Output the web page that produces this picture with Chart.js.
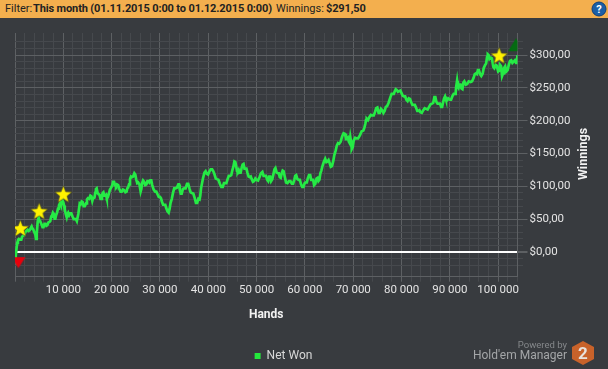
<!DOCTYPE html>
<html><head><meta charset="utf-8">
<script src="https://cdn.jsdelivr.net/npm/chart.js@4"></script>
<style>
html,body{margin:0;padding:0;width:608px;height:369px;overflow:hidden;background:#383b3f;font-family:Roboto,sans-serif}
#c{position:absolute;left:0;top:0}
#head{position:absolute;left:0;top:0;width:608px;height:18px;background:#f3af4e;color:#222;font-size:11px;line-height:17px;white-space:pre}
#head span{position:absolute;top:0}
b{font-weight:700;font-size:11px;letter-spacing:-.13px}
#pw{position:absolute;right:41px;top:338px;font-size:9.5px;color:#85888b;line-height:13px}
#hm{position:absolute;right:41px;top:346px;font-size:12px;color:#a4a6a8;line-height:18px}
#wn{position:absolute;left:553px;top:145.5px;width:60px;text-align:center;line-height:16px;font-size:12.5px;font-weight:700;color:#f2f2f2;transform:rotate(-90deg)}
svg{position:absolute}
</style></head><body>
<canvas id="c" width="608" height="369"></canvas>
<div id="head"><span style="left:5px">Filter:</span><span style="left:33px"><b>This month (01.11.2015 0:00 to 01.12.2015 0:00)</b></span><span style="left:276px">Winnings:</span><span style="left:326px"><b>$291,50</b></span></div>
<svg style="left:591px;top:1px" width="16" height="16" viewBox="0 0 16 16"><circle cx="8" cy="8" r="7" fill="#1c5fa5" stroke="#0f3f78"/><text x="8" y="12" text-anchor="middle" font-size="11" font-weight="700" fill="#fff" font-family="Roboto">?</text></svg>
<div id="pw">Powered by</div><div id="hm">Hold'em Manager</div>
<div id="wn">Winnings</div>
<svg style="left:571px;top:340px" width="24" height="26" viewBox="0 0 24 26"><polygon points="12,1 23,7 23,19 12,25 1,19 1,7" fill="#c8622a"/><text x="12" y="19" text-anchor="middle" font-size="17" font-weight="700" fill="#e8e2dc" font-family="Roboto">2</text></svg>
<script>
const hands=[0,150,300,450,600,800,1100,1450,1900,2200,2450,2800,3300,3600,4000,4200,4350,4500,4700,4900,5200,5500,5900,6300,6700,7150,7500,7850,8200,8500,8900,9350,9700,10000,10300,10700,11000,11400,11900,12400,12800,13100,13400,13800,14200,14700,15100,15600,16000,16300,16600,16900,17300,17700,18000,18300,18700,19000,19400,19900,20300,20700,21100,21600,22100,22600,23100,23400,23800,24200,24700,25100,25500,26000,26300,26700,27200,27600,28000,28400,29000,29500,30000,30400,30900,31300,31800,32200,32700,33200,33800,34100,34500,35000,35600,36100,36600,37200,37700,38200,38500,38900,39200,39700,40200,40800,41300,41800,42400,43000,43500,44000,44500,45000,45400,45800,46100,46500,46900,47300,47700,48100,48600,49000,49500,50000,50600,51200,51700,52200,52600,53000,53500,53900,54400,54800,55200,55600,56100,56700,57300,57800,58200,58700,59200,59700,60200,60600,61100,61500,61900,62400,62800,63200,63600,64200,64700,65100,65600,66100,66600,67100,67700,68300,68700,69100,69400,69700,70100,70700,71400,72100,72500,72800,73300,74000,74500,75000,75500,76000,76500,77000,77700,78200,78600,79000,79500,80000,80500,81000,81500,82000,82500,83000,83500,83900,84500,85100,85700,86300,86800,87200,87700,88200,88600,89000,89400,90000,90500,91100,91300,91500,91800,92200,92600,93000,93600,94300,94900,95400,95800,96300,96800,97300,97700,98000,98500,99000,99500,100000,100400,100800,101200,101700,102200,102700,103200,103700,104000];
const netWon=[-2,-6,4,14,18,20,19,23,26,31,33,32,37,36,30,27,20,28,46,53,47,42,38,43,41,46,54,60,51,56,66,75,73,76,65,53,60,59,54,50,47,58,74,77,70,74,82,86,78,82,90,97,88,81,85,91,86,82,88,98,107,102,103,96,92,94,92,98,111,114,120,110,106,92,105,107,103,108,109,102,92,88,84,77,72,67,60,75,90,97,103,95,89,97,104,97,90,82,75,80,97,112,121,119,122,126,118,111,104,99,105,111,116,125,138,130,122,121,128,134,127,121,114,111,108,110,114,122,116,110,115,108,119,128,120,114,120,123,106,108,104,110,117,110,103,99,106,112,117,110,102,112,108,120,130,142,138,136,131,148,162,165,176,180,172,168,175,157,170,173,178,185,195,203,205,208,213,220,212,216,215,222,236,241,245,247,245,242,237,232,234,228,224,220,215,213,216,218,221,226,236,229,226,221,228,237,231,232,237,241,251,261,250,255,248,260,256,259,265,272,277,270,272,285,297,300,296,282,285,275,285,268,280,275,285,292,290,288,300];
const wiggleHands=[1300,1700,2050,2600,3050,3450,3800,4100,5050,5350,5700,6100,6500,6900,7300,7650,8050,8350,8700,9100,9500,9850,10150,10500,10850,11200,11650,12150,12600,13600,14000,14450,14900,15350,15800,16150,16450,16750,17100,17500,17850,18150,18500,18850,19200,19650,20100,20500,20900,21350,21850,22350,22850,23250,23600,24000,24450,24900,25300,25750,26150,26500,26950,27400,27800,28200,28700,29250,29750,30200,30650,31100,31550,32000,32450,32950,33500,33950,34300,34750,35300,35850,36350,36900,37450,37950,38350,39450,39950,40500,41050,41550,42100,42700,43250,43750,44250,44750,45200,45600,45950,46300,46700,47100,47500,47900,48350,48800,49250,49750,50300,50900,51450,51950,52400,52800,53250,53700,54150,54600,55000,55400,55850,56400,57000,57550,58000,58450,58950,59450,59950,60400,60850,61300,61700,62150,62600,63000,63400,63900,64450,64900,65350,65850,66350,66850,67400,68000,68500,68900,69250,69550,69900,70400,71000,71750,72300,72650,73050,73650,74250,74750,75250,75750,76250,76750,77300,77950,78400,78800,79250,79750,80250,80750,81250,81750,82250,82750,83250,83700,84200,84800,85400,86000,86550,87000,87450,87950,88400,88800,89200,89700,90250,90800,91200,91650,92000,92400,92800,93300,93900,94600,95150,95600,96000,96500,97000,97500,97850,98200,98700,99200,99700,100200,100600,101000,101450,101950,102450,102950,103450,103850];
const wiggleValues=[19,25,26,34,33,39,34,30,47,47,38,43,40,45,47,55,58,51,60,71,72,78,71,58,58,56,59,50,50,73,76,70,80,81,85,82,83,96,90,87,81,90,86,87,83,95,101,107,100,102,92,95,91,97,103,115,115,118,105,103,96,109,102,108,106,109,95,92,84,82,72,72,62,66,81,97,98,103,89,96,97,104,91,89,75,81,86,123,118,126,123,112,110,99,105,105,116,117,130,137,123,125,121,133,127,127,115,115,107,112,109,120,116,116,108,115,111,126,121,120,113,124,114,105,108,104,116,111,110,99,105,106,117,110,110,104,113,110,124,137,137,140,130,138,154,166,168,181,172,174,166,168,160,174,173,184,189,201,201,209,208,219,212,218,212,221,227,241,241,248,244,246,238,237,230,233,224,224,215,216,212,219,217,225,227,236,226,226,221,234,232,234,232,241,242,252,255,249,258,255,260,260,271,271,277,268,280,287,301,294,295,280,284,276,283,272,283,277,291,288,292,289];
const starHands=[1100,5000,10000,100200];
const starValues=[36,62,88,299];
const lowHands=[700];
const lowValues=[-17];
const highHands=[103700];
const highValues=[315];
const xLabelEvery=10000;
const yLabelEvery=50;

function sprite(size,draw){const k=document.createElement('canvas');k.width=k.height=size;draw(k.getContext('2d'),size);return k;}
const star=sprite(19,(g,s)=>{g.beginPath();for(let i=0;i<10;i++){const r=i%2?3.9:9,a=-Math.PI/2+i*Math.PI/5;g.lineTo(s/2+r*Math.cos(a),s/2+0.6+r*Math.sin(a));}g.closePath();g.fillStyle='#fff200';g.fill();g.strokeStyle='#4a4a20';g.lineWidth=.6;g.stroke();});
const red=sprite(16,(g,s)=>{g.beginPath();g.moveTo(1,2);g.lineTo(15,2);g.lineTo(8,13);g.closePath();g.fillStyle='#e8000c';g.fill();});
const grn=sprite(18,(g,s)=>{g.beginPath();g.moveTo(1,15);g.lineTo(17,15);g.lineTo(9,2);g.closePath();g.fillStyle='#056b12';g.fill();});

const pair=(xs,ys)=>xs.map((x,i)=>({x,y:ys[i]}));
const trace=pair(hands,netWon).concat(pair(wiggleHands,wiggleValues)).sort((a,b)=>a.x-b.x);
const major='#5d6063',minor='#46494d',txt='#e4e4e4',font='Roboto';
new Chart(document.getElementById('c'),{
 type:'line',
 data:{datasets:[
  {label:'Net Won',data:trace,borderColor:'#25ea45',backgroundColor:'#24e83c',borderWidth:2.7,pointRadius:0,tension:0,order:3},
  {label:'best',data:pair(starHands,starValues),showLine:false,pointStyle:star,pointRadius:9,order:1},
  {label:'low',data:pair(lowHands,lowValues),showLine:false,pointStyle:red,pointRadius:8,order:2},
  {label:'high',data:pair(highHands,highValues),showLine:false,pointStyle:grn,pointRadius:8,order:2}
 ]},
 plugins:[{id:'moveLegend',afterLayout(c){c.legend.left+=-28;c.legend.right+=-28;c.legend.top+=10;c.legend.bottom+=10;}}],
 options:{
  responsive:false,animation:false,
  layout:{padding:{left:15,top:33,right:0,bottom:7}},
  plugins:{tooltip:{enabled:false},
   legend:{position:'bottom',labels:{padding:18,filter:i=>{i.lineWidth=0;return i.text==='Net Won';},boxWidth:6,boxHeight:6,color:'#d8d8d8',font:{family:font,size:12}}}},
  scales:{
   x:{type:'linear',min:0,max:104000,
    afterFit(a){a.height=45.3;},
    title:{display:true,text:'Hands',color:'#f2f2f2',font:{family:font,size:12,weight:'bold'},padding:{top:10,bottom:0}},
    border:{color:major},
    grid:{color:c=>c.tick.value%xLabelEvery===0?major:minor,tickColor:c=>c.tick.value%xLabelEvery===0?major:minor,tickLength:5,lineWidth:1},
    ticks:{stepSize:2000,autoSkip:false,maxRotation:0,color:txt,padding:2,font:{family:font,size:11.5},
     callback:v=>(v>0&&v%xLabelEvery===0)?String(v).replace(/(\d)(\d{3})$/,'$1 $2'):''}},
   y:{type:'linear',position:'right',min:-37.6,max:333.6,
    afterBuildTicks(a){a.ticks=a.ticks.filter(t=>t.value%10===0);},
    afterFit(a){a.width=90.5;},
    border:{color:major},
    grid:{color:c=>c.tick.value===0?'#ffffff':(c.tick.value%yLabelEvery===0?major:minor),
     lineWidth:c=>c.tick.value===0?2:1,tickColor:c=>c.tick.value%yLabelEvery===0?major:minor,tickLength:10,
     tickBorderDash:c=>c.tick.value%yLabelEvery===0?[]:[5,20]},
    ticks:{stepSize:10,autoSkip:false,color:txt,padding:2,font:{family:font,size:11.5},
     callback:v=>v%yLabelEvery===0?'$'+v+',00':''}}
  }
 }
});
</script></body></html>
